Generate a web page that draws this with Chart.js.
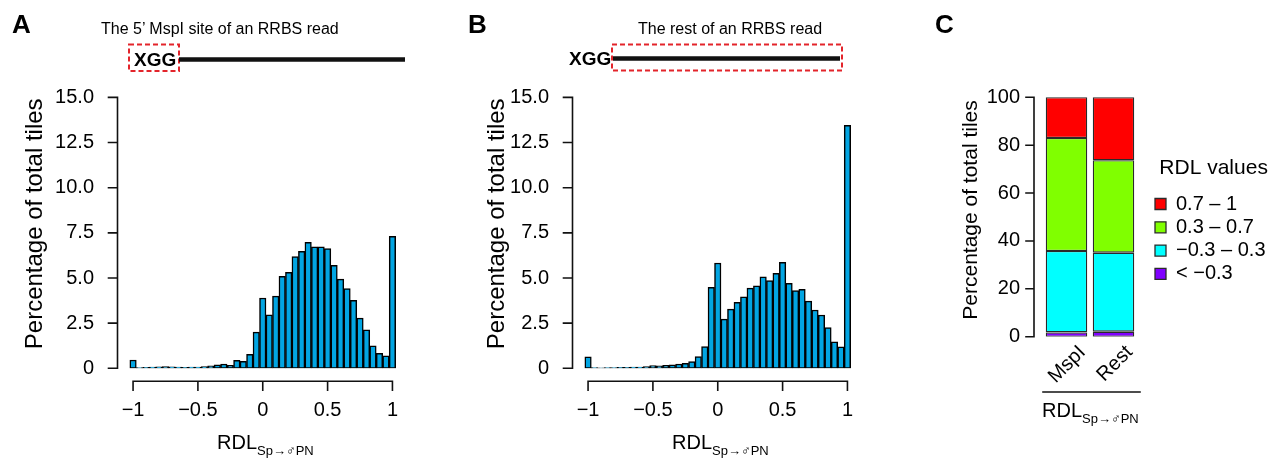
<!DOCTYPE html>
<html>
<head>
<meta charset="utf-8">
<script src="https://cdn.jsdelivr.net/npm/chart.js@4.4.1/dist/chart.umd.min.js"></script>
<style>
  html, body { margin:0; padding:0; background:#fff; }
  body { position:relative; width:1287px; height:462px; overflow:hidden; font-family:"Liberation Sans", Arial, Helvetica, sans-serif; color:#000; }
  canvas { position:absolute; top:0; }
  .t { position:absolute; white-space:nowrap; line-height:1; }
  .panel { font-weight:bold; font-size:26px; }
  .cap { font-size:16px; }
  .xgg { font-weight:bold; font-size:19px; }
  .xt { font-size:20px; }
  .xt sub { font-size:13px; vertical-align:baseline; position:relative; top:6px; }
  svg { position:absolute; left:0; top:0; }
</style>
</head>
<body>
<canvas id="chartA" width="440" height="462" style="left:0px"></canvas>
<canvas id="chartB" width="470" height="462" style="left:440px"></canvas>
<canvas id="chartC" width="387" height="462" style="left:900px"></canvas>

<svg width="1287" height="90">
  <rect x="129" y="44.5" width="50" height="26.5" fill="none" stroke="#e3242b" stroke-width="2" stroke-dasharray="5 3"/>
  <line x1="179" y1="59.5" x2="405" y2="59.5" stroke="#111" stroke-width="4.5"/>
  <rect x="612" y="44.5" width="230" height="26" fill="none" stroke="#e3242b" stroke-width="2" stroke-dasharray="5 3"/>
  <line x1="613" y1="58.5" x2="840" y2="58.5" stroke="#111" stroke-width="4.5"/>
</svg>
<div class="t panel" style="left:12px;top:11px">A</div>
<div class="t panel" style="left:468px;top:11px">B</div>
<div class="t panel" style="left:935px;top:11px">C</div>
<div class="t cap" style="left:101px;top:21px">The 5’ MspI site of an RRBS read</div>
<div class="t cap" style="left:638px;top:21px">The rest of an RRBS read</div>
<div class="t xgg" style="left:134px;top:50px">XGG</div>
<div class="t xgg" style="left:569px;top:49px">XGG</div>
<div class="t xt" style="left:217px;top:432px">RDL<sub>Sp→♂PN</sub></div>
<div class="t xt" style="left:672px;top:432px">RDL<sub>Sp→♂PN</sub></div>
<div class="t xt" style="left:1042px;top:400px">RDL<sub>Sp→♂PN</sub></div>

<script>
// ---------------- data ----------------
const binCenters = [-1, -0.95, -0.9, -0.85, -0.8, -0.75, -0.7, -0.65, -0.6, -0.55,
  -0.5, -0.45, -0.4, -0.35, -0.3, -0.25, -0.2, -0.15, -0.1, -0.05,
  0, 0.05, 0.1, 0.15, 0.2, 0.25, 0.3, 0.35, 0.4, 0.45,
  0.5, 0.55, 0.6, 0.65, 0.7, 0.75, 0.8, 0.85, 0.9, 0.95, 1];

// Panel A: percentage of total tiles, 5' MspI site
const mspiPercent = [0.46, 0.04, 0.05, 0.07, 0.08, 0.09, 0.08, 0.07, 0.06, 0.07,
  0.07, 0.10, 0.13, 0.19, 0.24, 0.17, 0.44, 0.39, 0.78, 2.00,
  3.89, 2.96, 4.00, 5.09, 5.31, 6.19, 6.48, 6.98, 6.72, 6.72,
  6.63, 5.70, 4.94, 4.41, 3.76, 2.78, 2.13, 1.24, 0.83, 0.69, 7.31];

// Panel B: percentage of total tiles, rest of read
const restPercent = [0.63, 0.04, 0.03, 0.04, 0.04, 0.05, 0.06, 0.07, 0.07, 0.09,
  0.15, 0.13, 0.17, 0.19, 0.24, 0.28, 0.37, 0.65, 1.20, 4.48,
  5.83, 2.72, 3.28, 3.65, 3.96, 4.44, 4.56, 5.06, 4.85, 5.26,
  5.87, 4.70, 4.30, 4.37, 3.72, 3.23, 2.95, 2.25, 1.47, 1.19, 13.45];

const xTickValues = [-1, -0.5, 0, 0.5, 1];
const xTickLabels = ['\u22121', '\u22120.5', '0', '0.5', '1'];
const yTickValues = [0, 2.5, 5, 7.5, 10, 12.5, 15];
const yTickLabels = ['0', '2.5', '5.0', '7.5', '10.0', '12.5', '15.0'];

// Panel C: stacked percentages
const groupLabels = ['MspI', 'Rest'];
const pctBelowMinus03 = [1.8, 2.1];
const pctMinus03to03 = [34.0, 33.0];
const pct03to07 = [47.2, 38.6];
const pct07to1 = [17.0, 26.3];
const stackTickValues = [0, 20, 40, 60, 80, 100];
const stackTickLabels = ['0', '20', '40', '60', '80', '100'];

// ---------------- styling ----------------
const FONT = '"Liberation Sans", Arial, Helvetica, sans-serif';
Chart.defaults.font.family = FONT;
Chart.defaults.color = '#000';
const HIST_FILL = '#02a5e2';

// R-style detached axes
const rAxes = {
  id: 'rAxes',
  afterDraw(chart, args, o) {
    const ctx = chart.ctx, ca = chart.chartArea, ys = chart.scales.y, xs = chart.scales.x;
    ctx.save();
    ctx.strokeStyle = '#111';
    ctx.lineWidth = o.lw;
    ctx.lineCap = 'square';
    const yx = ca.left + o.yShift;
    const yp = ys.ticks.map(t => ys.getPixelForValue(t.value));
    ctx.beginPath();
    ctx.moveTo(yx, Math.max(...yp)); ctx.lineTo(yx, Math.min(...yp));
    yp.forEach(p => { ctx.moveTo(yx, p); ctx.lineTo(yx - o.tick, p); });
    ctx.stroke();
    if (o.xAxis) {
      const y0 = ca.bottom + o.xGap;
      const xp = xs.ticks.map(t => xs.getPixelForValue(t.value));
      ctx.beginPath();
      ctx.moveTo(Math.min(...xp), y0); ctx.lineTo(Math.max(...xp), y0);
      xp.forEach(p => { ctx.moveTo(p, y0); ctx.lineTo(p, y0 + o.tick); });
      ctx.stroke();
    }
    if (o.underline) {
      ctx.beginPath();
      ctx.moveTo(ca.left + o.underline.dx1, o.underline.y);
      ctx.lineTo(ca.right + o.underline.dx2, o.underline.y);
      ctx.stroke();
    }
    ctx.restore();
  }
};

// place legend freely
const legendPlace = {
  id: 'legendPlace',
  afterLayout(chart, args, o) {
    const lg = chart.legend;
    if (!lg || o.x == null) return;
    const w = lg.width, h = lg.height;
    lg.left = o.x; lg.right = o.x + w;
    lg.top = o.y; lg.bottom = o.y + h;
  }
};
Chart.register(rAxes, legendPlace);

function histChart(id, values, cfg) {
  return new Chart(document.getElementById(id), {
    type: 'bar',
    data: {
      datasets: [{
        data: binCenters.map((x, i) => ({ x: x, y: values[i] })),
        backgroundColor: HIST_FILL,
        borderColor: '#000',
        borderWidth: 1.5,
        borderSkipped: false,
        barPercentage: 1,
        categoryPercentage: 1
      }]
    },
    options: {
      responsive: false, animation: false, devicePixelRatio: 1,
      layout: { padding: { left: 0, top: 79.3, right: cfg.padRight, bottom: 0 } },
      plugins: {
        legend: { display: false },
        tooltip: { enabled: false },
        legendPlace: {},
        rAxes: { lw: 1.6, tick: 9, yShift: 0, xAxis: true, xGap: 13 }
      },
      scales: {
        x: {
          type: 'linear', min: -1.12, max: 1.12, offset: false,
          grid: { display: false, drawTicks: false },
          border: { display: false },
          afterBuildTicks: s => { s.ticks = xTickValues.map(v => ({ value: v })); },
          ticks: { padding: 30, font: { size: 20 }, color: '#000', maxRotation: 0, autoSkip: false,
                   callback: (v, i) => xTickLabels[i] },
          afterFit: s => { s.height = 462 - 368.3; }
        },
        y: {
          min: 0, max: 16,
          grid: { display: false, drawTicks: false },
          border: { display: false },
          afterBuildTicks: s => { s.ticks = yTickValues.map(v => ({ value: v })); },
          ticks: { padding: 23.5, font: { size: 20 }, color: '#000', autoSkip: false,
                   callback: (v, i) => yTickLabels[i] },
          title: { display: true, text: 'Percentage of total tiles', color: '#000',
                   font: { size: 24, lineHeight: 1 }, padding: { top: cfg.titlePad, bottom: 0 } },
          afterFit: s => { s.width = cfg.yWidth; }
        }
      }
    }
  });
}

histChart('chartA', mspiPercent, { padRight: 32, yWidth: 117.5, titlePad: 23 });
histChart('chartB', restPercent, { padRight: 47, yWidth: 132.5, titlePad: 45 });

const segBorder = '#2a2a2a';
new Chart(document.getElementById('chartC'), {
  type: 'bar',
  data: {
    labels: groupLabels,
    datasets: [
      { label: '< \u22120.3', data: pctBelowMinus03, backgroundColor: '#8000ff' },
      { label: '\u22120.3 \u2013 0.3', data: pctMinus03to03, backgroundColor: '#00ffff' },
      { label: '0.3 \u2013 0.7', data: pct03to07, backgroundColor: '#80ff00' },
      { label: '0.7 \u2013 1', data: pct07to1, backgroundColor: '#ff0000' }
    ].map(d => Object.assign(d, { borderColor: segBorder, borderWidth: 1.3, borderSkipped: false,
                                   barPercentage: 0.883, categoryPercentage: 1 }))
  },
  options: {
    responsive: false, animation: false, devicePixelRatio: 1,
    layout: { padding: { left: 0, top: 83.3, right: 150, bottom: 0 } },
    plugins: {
      tooltip: { enabled: false },
      legend: {
        position: 'chartArea', align: 'start', reverse: true, maxWidth: 400,
        labels: { boxWidth: 11, boxHeight: 11, padding: 3.3, color: '#000', font: { size: 20 } },
        title: { display: true, text: 'RDL values', color: '#000', font: { size: 21 },
                 padding: { top: 0, bottom: 8 } }
      },
      legendPlace: { x: 251.7, y: 157.5 },
      rAxes: { lw: 1.6, tick: 8, yShift: -9, xAxis: false,
               underline: { dx1: 0, dx2: 3, y: 392 } }
    },
    scales: {
      x: {
        stacked: true,
        grid: { display: false, drawTicks: false },
        border: { display: false },
        ticks: { padding: 4, labelOffset: 16, minRotation: 45, maxRotation: 45, font: { size: 20 }, color: '#000' },
        afterFit: s => { s.height = 462 - 336.7; }
      },
      y: {
        stacked: true, min: 0, max: 105.85,
        grid: { display: false, drawTicks: false },
        border: { display: false },
        afterBuildTicks: s => { s.ticks = stackTickValues.map(v => ({ value: v })); },
        ticks: { padding: 23, font: { size: 20 }, color: '#000', callback: (v, i) => stackTickLabels[i] },
        title: { display: true, text: 'Percentage of total tiles', color: '#000',
                 font: { size: 21, lineHeight: 1 }, padding: { top: 61, bottom: 0 } },
        afterFit: s => { s.width = 143; }
      }
    }
  }
});
</script>
</body>
</html>
